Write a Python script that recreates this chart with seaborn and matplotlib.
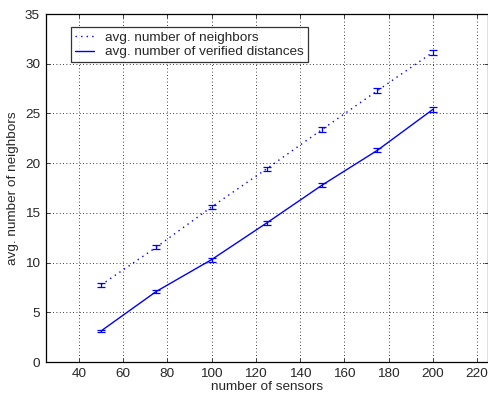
import numpy as np
import pandas as pd
import matplotlib
matplotlib.use("Agg")
import matplotlib.pyplot as plt
import seaborn as sns

sensors = [50, 75, 100, 125, 150, 175, 200]
neighbors = [7.75, 11.55, 15.6, 19.45, 23.4, 27.3, 31.15]
neighbors_err = [0.2, 0.2, 0.2, 0.2, 0.22, 0.25, 0.27]
verified = [3.12, 7.1, 10.3, 14.0, 17.8, 21.3, 25.4]
verified_err = [0.15, 0.18, 0.2, 0.2, 0.22, 0.22, 0.25]

x_ticks = [40, 60, 80, 100, 120, 140, 160, 180, 200, 220]
y_ticks = [0, 5, 10, 15, 20, 25, 30, 35]

FS = 9.7


def main():
    sns.set_style("ticks")
    plt.rcParams["font.family"] = ["Liberation Sans", "DejaVu Sans"]
    plt.rcParams["xtick.direction"] = "in"
    plt.rcParams["ytick.direction"] = "in"

    df = pd.DataFrame({
        "sensors": sensors * 2,
        "value": neighbors + verified,
        "serie": ["avg. number of neighbors"] * 7 + ["avg. number of verified distances"] * 7,
    })

    fig = plt.figure(figsize=(4.89, 3.99), dpi=100)
    ax = fig.add_axes([0.0935, 0.0927, 0.9045, 0.872])

    sns.lineplot(
        data=df, x="sensors", y="value", hue="serie", style="serie",
        palette=["blue", "blue"], dashes=[(1, 3), ""], linewidth=1.0, ax=ax,
    )
    ax.errorbar(sensors, neighbors, yerr=neighbors_err, fmt="none",
                ecolor="blue", elinewidth=0.9, capsize=3, capthick=0.9)
    ax.errorbar(sensors, verified, yerr=verified_err, fmt="none",
                ecolor="blue", elinewidth=0.9, capsize=3, capthick=0.9)

    ax.set_xlim(25, 225)
    ax.set_ylim(0, 35)
    ax.set_xticks(x_ticks)
    ax.set_yticks(y_ticks)
    ax.tick_params(labelsize=FS, top=True, right=True, length=3, width=0.6, pad=4)
    ax.grid(True, linestyle=(0, (1, 3)), color="black", linewidth=0.6)
    ax.set_xlabel("number of sensors", fontsize=FS, labelpad=1)
    ax.set_ylabel("avg. number of neighbors", fontsize=FS, labelpad=4)
    for s in ax.spines.values():
        s.set_visible(True)
        s.set_linewidth(0.9)
        s.set_color("black")

    leg = ax.legend(loc="upper left", bbox_to_anchor=(0.058, 0.962), fontsize=FS,
                    frameon=True, fancybox=False, edgecolor="black",
                    borderpad=0.3, labelspacing=0.15, handlelength=1.4,
                    handletextpad=0.8, borderaxespad=0)
    leg.get_frame().set_linewidth(0.9)
    leg.set_title(None)

    plt.savefig("out.png", dpi=100)
    plt.close()


if __name__ == "__main__":
    main()
